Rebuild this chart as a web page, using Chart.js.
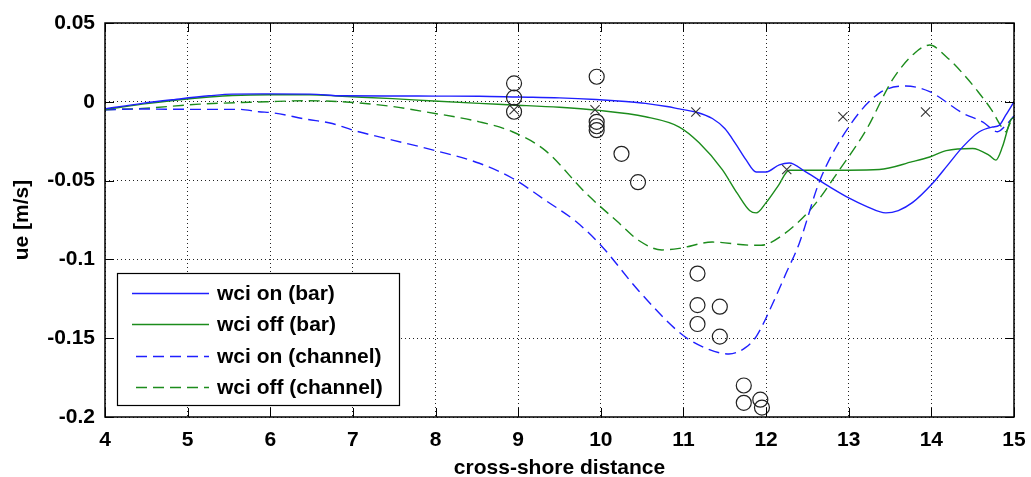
<!DOCTYPE html>
<html>
<head>
<meta charset="utf-8">
<script src="https://cdn.jsdelivr.net/npm/chart.js@4.4.0/dist/chart.umd.min.js"></script>
<style>
  html, body { margin: 0; padding: 0; background: #fff; }
  #grafico { display: block; }
</style>
</head>
<body>
<canvas id="grafico" width="1031" height="477"></canvas>
<script>
// dados
var xTicks = [4, 5, 6, 7, 8, 9, 10, 11, 12, 13, 14, 15];
var yTicks = [-0.2, -0.15, -0.1, -0.05, 0, 0.05];
var yTickLabels = ["-0.2", "-0.15", "-0.1", "-0.05", "0", "0.05"];

var onBarX = [4, 4.45, 4.85, 5.26, 5.54, 6, 6.48, 6.87, 7.5, 8, 8.53, 9, 9.5, 9.94, 10.3, 10.54, 10.8, 10.95, 11.15, 11.35, 11.5, 11.63, 11.76, 11.88, 12, 12.16, 12.28, 12.48, 12.77, 13, 13.2, 13.45, 13.6, 13.77, 14.01, 14.2, 14.38, 14.58, 14.74, 14.82, 14.9, 15];
var onBarY = [-0.0045, -0.001, 0.0015, 0.0038, 0.0049, 0.005, 0.0049, 0.0038, 0.0037, 0.0036, 0.0035, 0.003, 0.0025, 0.0015, 0.0002, -0.001, -0.003, -0.0045, -0.0065, -0.0106, -0.017, -0.0265, -0.037, -0.0445, -0.0445, -0.04, -0.0388, -0.0445, -0.054, -0.061, -0.066, -0.0705, -0.069, -0.064, -0.052, -0.04, -0.0286, -0.019, -0.016, -0.015, -0.0085, 0];

var offBarX = [4, 4.45, 4.85, 5.26, 5.54, 6, 6.48, 6.87, 7.48, 7.92, 8.53, 8.93, 9.5, 9.94, 10.54, 10.95, 11.19, 11.47, 11.65, 11.8, 11.88, 12, 12.15, 12.28, 12.6, 13, 13.37, 13.77, 13.98, 14.18, 14.5, 14.7, 14.78, 14.86, 14.96, 15];
var offBarY = [-0.005, -0.0015, 0.001, 0.003, 0.004, 0.0045, 0.0045, 0.0035, 0.002, 0.0007, -0.001, -0.002, -0.0035, -0.0053, -0.0095, -0.016, -0.026, -0.043, -0.058, -0.069, -0.0705, -0.064, -0.053, -0.0434, -0.0434, -0.0434, -0.043, -0.038, -0.035, -0.031, -0.0296, -0.034, -0.037, -0.0286, -0.0116, -0.01];

var onChanX = [4, 4.45, 5.14, 5.62, 5.86, 6.03, 6.43, 6.75, 7, 7.48, 8, 8.53, 8.93, 9.33, 9.7, 10, 10.46, 10.99, 11.3, 11.55, 11.75, 11.88, 12.08, 12.24, 12.4, 12.65, 13, 13.37, 13.69, 13.98, 14.38, 14.62, 14.8, 14.9, 15];
var onChanY = [-0.005, -0.0046, -0.0048, -0.0048, -0.0063, -0.007, -0.011, -0.0138, -0.018, -0.0243, -0.031, -0.039, -0.0485, -0.0625, -0.076, -0.091, -0.12, -0.148, -0.157, -0.16, -0.156, -0.149, -0.128, -0.109, -0.09, -0.05, -0.016, 0.0055, 0.01, 0.0064, -0.0072, -0.0127, -0.019, -0.015, -0.009];

var offChanX = [4, 4.45, 5.14, 5.95, 6.43, 7, 7.48, 7.88, 8.53, 8.93, 9.33, 9.82, 10.2, 10.46, 10.74, 10.95, 11.35, 11.83, 11.94, 12.16, 12.56, 12.89, 13.21, 13.53, 13.8, 13.98, 14.18, 14.38, 14.55, 14.73, 14.85, 14.9, 14.95, 15];
var offChanY = [-0.005, -0.0042, -0.0015, 0, 0.0007, -0.0004, -0.003, -0.0064, -0.0127, -0.019, -0.031, -0.058, -0.076, -0.088, -0.094, -0.093, -0.089, -0.091, -0.091, -0.086, -0.067, -0.043, -0.018, 0.014, 0.031, 0.036, 0.0286, 0.018, 0.0074, -0.0053, -0.016, -0.019, -0.0138, -0.0095];

// medições (círculos) e cruzes
var obsX = [8.95, 8.95, 8.95, 9.95, 9.95, 9.95, 9.95, 10.25, 10.45, 11.17, 11.17, 11.17, 11.44, 11.44, 11.73, 11.73, 11.93, 11.95];
var obsY = [0.0117, 0.0026, -0.0063, 0.0159, -0.0127, -0.0155, -0.018, -0.033, -0.051, -0.109, -0.129, -0.141, -0.130, -0.149, -0.180, -0.191, -0.189, -0.194];
var crossX = [8.95, 9.93, 11.15, 12.25, 12.93, 13.93];
var crossY = [-0.005, -0.005, -0.0065, -0.043, -0.0095, -0.0065];

var nomesSeries = ["wci on (bar)", "wci off (bar)", "wci on (channel)", "wci off (channel)"];

var azul = "#1f1fff";
var verde = "#1c8c1c";
var fonte = { family: "'Liberation Sans', Arial, sans-serif", size: 21, weight: "bold" };

function juntarPontos(xs, ys) {
  var pontos = [];
  for (var i = 0; i < xs.length; i++) {
    pontos.push({ x: xs[i], y: ys[i] });
  }
  return pontos;
}

function serieLinha(nome, xs, ys, cor, tracejado) {
  return {
    label: nome,
    data: juntarPontos(xs, ys),
    showLine: true,
    borderColor: cor,
    borderWidth: 1.4,
    borderDash: tracejado ? [11, 6] : [],
    pointRadius: 0,
    cubicInterpolationMode: "monotone",
    fill: false,
    order: 2
  };
}

// moldura com ticks para dentro + legenda dentro do gráfico
var molduraPlugin = {
  id: "moldura",
  afterDatasetsDraw: function(chart) {
    var ctx = chart.ctx;
    var area = chart.chartArea;
    var sx = chart.scales.x;
    var sy = chart.scales.y;
    var tam = 9;

    ctx.save();
    ctx.strokeStyle = "#000";
    ctx.lineWidth = 1;
    ctx.setLineDash([]);
    ctx.beginPath();
    for (var i = 0; i < xTicks.length; i++) {
      var px = Math.round(sx.getPixelForValue(xTicks[i])) + 0.5;
      ctx.moveTo(px, area.bottom);
      ctx.lineTo(px, area.bottom - tam);
      ctx.moveTo(px, area.top);
      ctx.lineTo(px, area.top + tam);
    }
    for (var j = 0; j < yTicks.length; j++) {
      var py = Math.round(sy.getPixelForValue(yTicks[j])) + 0.5;
      ctx.moveTo(area.left, py);
      ctx.lineTo(area.left + tam, py);
      ctx.moveTo(area.right, py);
      ctx.lineTo(area.right - tam, py);
    }
    ctx.stroke();
    ctx.lineWidth = 1.5;
    ctx.strokeRect(area.left, area.top, area.right - area.left, area.bottom - area.top);

    // legenda
    var lx = 117, ly = 273, lw = 282, lh = 132;
    ctx.fillStyle = "#fff";
    ctx.fillRect(lx, ly, lw, lh);
    ctx.lineWidth = 1.2;
    ctx.strokeStyle = "#000";
    ctx.strokeRect(lx + 0.5, ly + 0.5, lw, lh);

    var linhasY = [293, 324, 356, 387];
    ctx.font = "bold 21px 'Liberation Sans', Arial, sans-serif";
    ctx.textBaseline = "middle";
    ctx.textAlign = "left";
    for (var k = 0; k < 4; k++) {
      var ds = chart.data.datasets[k];
      ctx.strokeStyle = ds.borderColor;
      ctx.lineWidth = 1.4;
      ctx.setLineDash(ds.borderDash);
      ctx.beginPath();
      ctx.moveTo(k < 2 ? 132 : 136, linhasY[k] + 0.5);
      ctx.lineTo(209, linhasY[k] + 0.5);
      ctx.stroke();
      ctx.setLineDash([]);
      ctx.fillStyle = "#000";
      ctx.fillText(ds.label, 217, linhasY[k] + 1);
    }
    ctx.restore();
  }
};

var contexto = document.getElementById("grafico").getContext("2d");
var grafico = new Chart(contexto, {
  type: "scatter",
  data: {
    datasets: [
      serieLinha(nomesSeries[0], onBarX, onBarY, azul, false),
      serieLinha(nomesSeries[1], offBarX, offBarY, verde, false),
      serieLinha(nomesSeries[2], onChanX, onChanY, azul, true),
      serieLinha(nomesSeries[3], offChanX, offChanY, verde, true),
      {
        label: "obs",
        data: juntarPontos(obsX, obsY),
        pointStyle: "circle",
        pointRadius: 7.5,
        pointBorderWidth: 1.2,
        pointBorderColor: "#222",
        pointBackgroundColor: "rgba(0,0,0,0)",
        showLine: false,
        order: 1
      },
      {
        label: "cross",
        data: juntarPontos(crossX, crossY),
        pointStyle: "crossRot",
        pointRadius: 6.5,
        pointBorderWidth: 1.1,
        pointBorderColor: "#333",
        showLine: false,
        order: 1
      }
    ]
  },
  options: {
    responsive: false,
    animation: false,
    devicePixelRatio: 1,
    clip: false,
    layout: { padding: { top: 23, right: 17, bottom: 0, left: 0 } },
    plugins: {
      legend: { display: false },
      tooltip: { enabled: false }
    },
    scales: {
      x: {
        type: "linear",
        min: 4,
        max: 15,
        afterBuildTicks: function(escala) {
          escala.ticks = xTicks.map(function(v) { return { value: v }; });
        },
        afterFit: function(escala) { escala.height = 60; },
        ticks: { font: fonte, color: "#000", padding: 0, maxRotation: 0, autoSkip: false },
        grid: { color: "#222", lineWidth: 1, drawTicks: true, tickLength: 11, tickColor: "rgba(0,0,0,0)" },
        border: { display: false, dash: [1, 3] },
        title: { display: true, text: "cross-shore distance", font: fonte, color: "#000", padding: { top: 0, bottom: -4 } }
      },
      y: {
        type: "linear",
        min: -0.2,
        max: 0.05,
        afterBuildTicks: function(escala) {
          escala.ticks = yTicks.map(function(v) { return { value: v }; });
        },
        afterFit: function(escala) { escala.width = 105; },
        ticks: {
          font: fonte,
          color: "#000",
          padding: 0,
          autoSkip: false,
          callback: function(valor, indice) { return yTickLabels[indice]; }
        },
        grid: { color: "#222", lineWidth: 1, drawTicks: true, tickLength: 10, tickColor: "rgba(0,0,0,0)" },
        border: { display: false, dash: [1, 3] },
        title: { display: true, text: "ue [m/s]", font: fonte, color: "#000", padding: { top: 10, bottom: 0 } }
      }
    }
  },
  plugins: [molduraPlugin]
});
</script>
</body>
</html>
